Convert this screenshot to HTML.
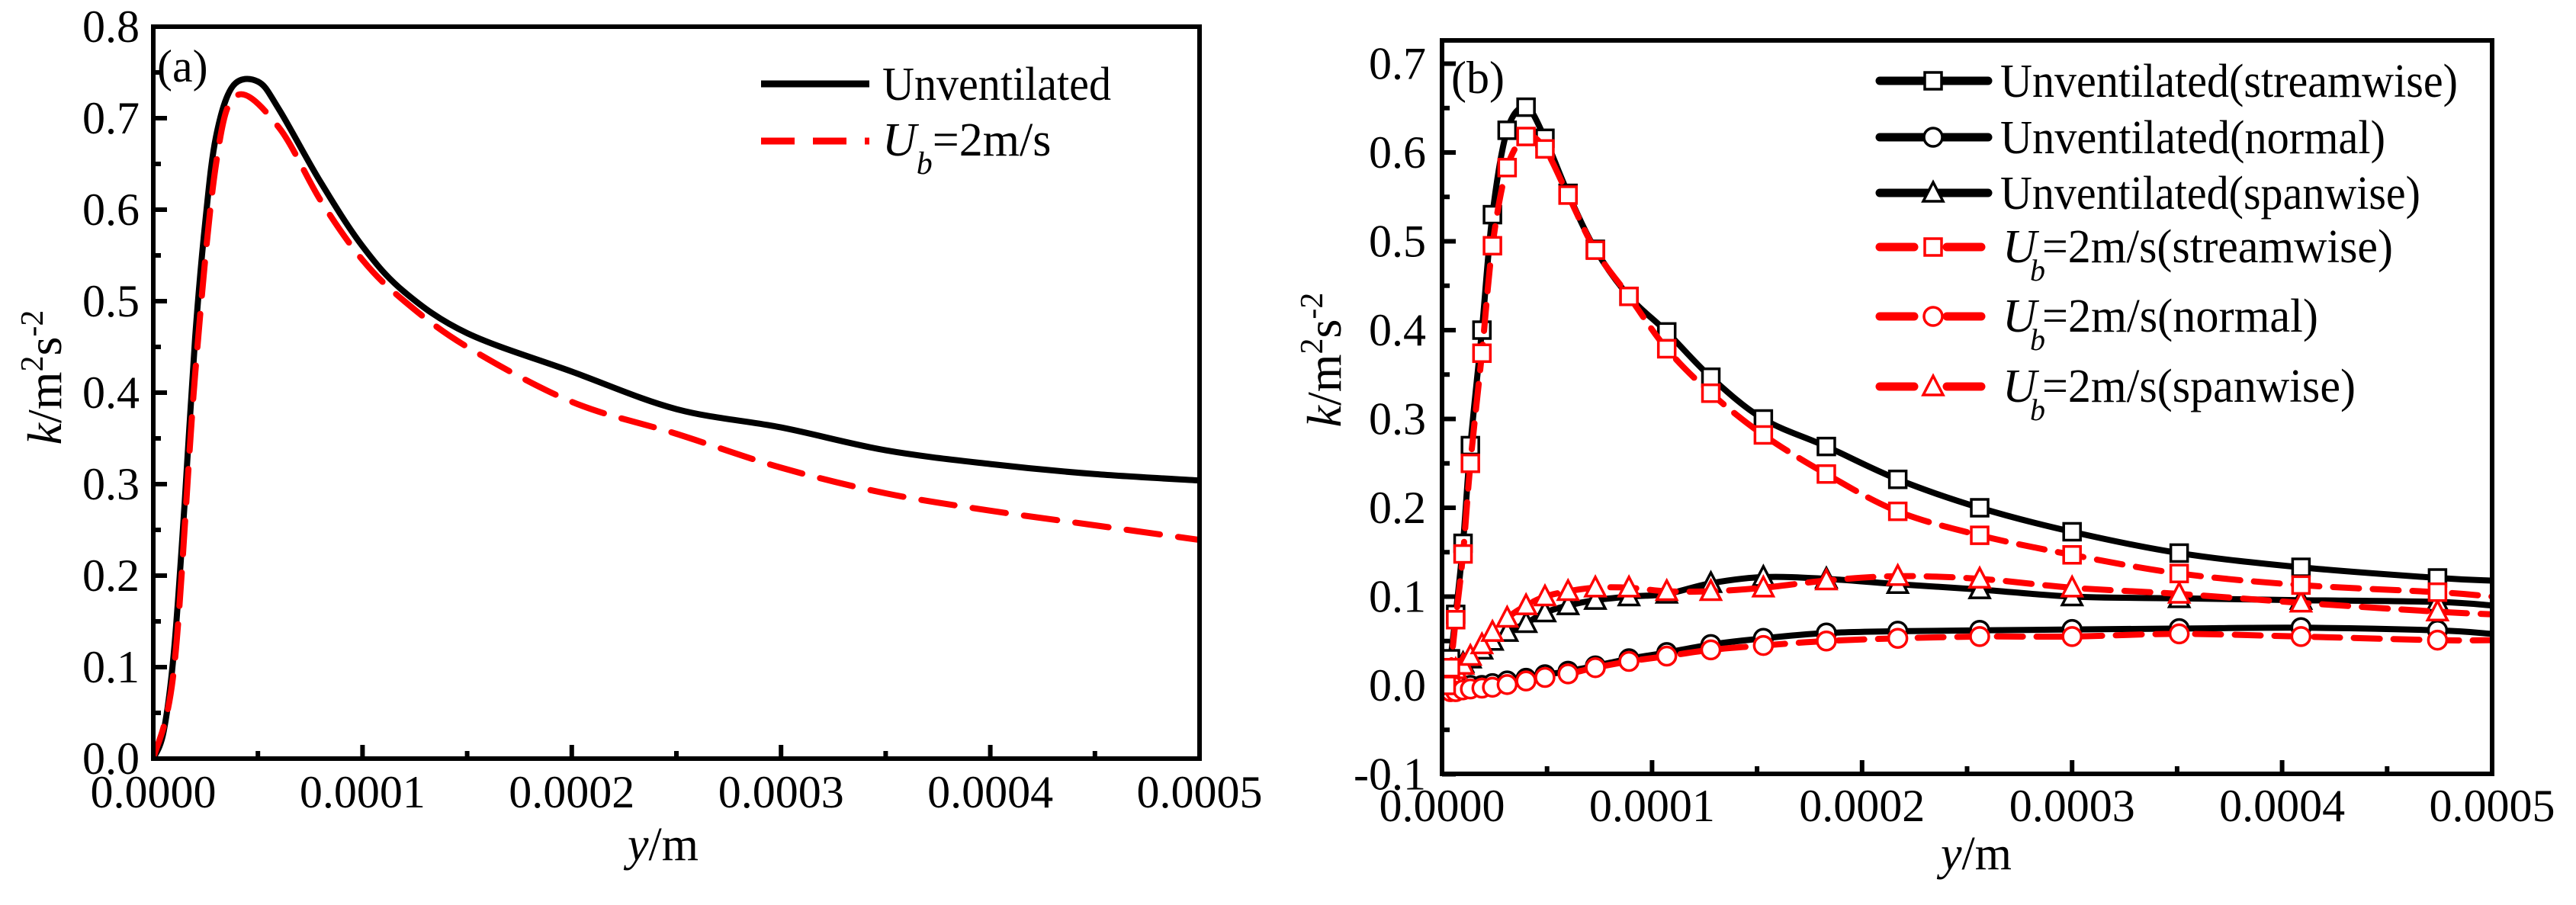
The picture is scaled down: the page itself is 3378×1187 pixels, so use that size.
<!DOCTYPE html>
<html><head><meta charset="utf-8"><style>
html,body{margin:0;padding:0;background:#fff;}
svg{display:block;font-family:"Liberation Serif",serif;}
</style></head><body>
<svg id="fig" width="3378" height="1187" viewBox="0 0 3378 1187" xmlns="http://www.w3.org/2000/svg">
<rect width="3378" height="1187" fill="#fff"/>
<g id="pa"></g>
<g id="pb"></g>
</svg>
<script>
// ---- Panel (a) data ----
const aUnventX = [0,0.000005,0.00001,0.000015,0.00002,0.000025,0.00003,0.000038,0.00005,0.00006,0.00008,0.0001,0.00012,0.00015,0.0002,0.00025,0.0003,0.00035,0.0004,0.00045,0.0005];
const aUnventY = [0,0.03,0.12,0.28,0.46,0.59,0.68,0.735,0.74,0.71,0.63,0.56,0.51,0.465,0.423,0.382,0.362,0.337,0.322,0.311,0.304];
const aUbX = [0,0.00001,0.00002,0.00003,0.00004,0.00006,0.00008,0.0001,0.00012,0.00015,0.0002,0.00025,0.0003,0.00035,0.0004,0.00045,0.0005];
const aUbY = [0,0.1,0.42,0.65,0.725,0.69,0.61,0.545,0.5,0.45,0.39,0.355,0.318,0.29,0.271,0.255,0.239];
const aXTicks = ["0.0000","0.0001","0.0002","0.0003","0.0004","0.0005"];
const aYTicks = ["0.0","0.1","0.2","0.3","0.4","0.5","0.6","0.7","0.8"];

// ---- Panel (b) data ----
const bX = [0.000002,0.000004,0.0000065,0.00001,0.0000135,0.000019,0.000024,0.000031,0.00004,0.000049,0.00006,0.000073,0.000089,0.000107,0.000128,0.000153,0.000183,0.000217,0.000256,0.0003,0.000351,0.000409,0.000474,0.0005];
const bUnvStream = [0.01,0.03,0.08,0.16,0.27,0.40,0.53,0.625,0.651,0.616,0.554,0.491,0.438,0.398,0.347,0.300,0.269,0.232,0.200,0.173,0.149,0.133,0.121,0.118];
const bUnvNormal = [0,0,0,0,0,0,0.002,0.005,0.008,0.012,0.016,0.022,0.030,0.037,0.046,0.053,0.059,0.061,0.062,0.063,0.064,0.065,0.062,0.058];
const bUnvSpan = [0.005,0.01,0.017,0.025,0.03,0.04,0.05,0.06,0.07,0.082,0.09,0.096,0.1,0.103,0.115,0.122,0.12,0.114,0.108,0.1,0.098,0.096,0.094,0.09];
const bUbStream = [0.0,0.02,0.074,0.148,0.25,0.374,0.495,0.583,0.618,0.604,0.552,0.49,0.438,0.379,0.329,0.282,0.238,0.196,0.169,0.147,0.126,0.113,0.105,0.1];
const bUbNormal = [-0.005,-0.007,-0.007,-0.005,-0.004,-0.003,-0.002,0.001,0.005,0.009,0.013,0.02,0.027,0.033,0.04,0.045,0.05,0.053,0.055,0.055,0.058,0.055,0.051,0.051];
const bUbSpan = [0.005,0.013,0.018,0.023,0.033,0.046,0.06,0.076,0.09,0.1,0.106,0.11,0.11,0.106,0.106,0.11,0.118,0.123,0.12,0.11,0.103,0.093,0.083,0.08];
const bXTicks = ["0.0000","0.0001","0.0002","0.0003","0.0004","0.0005"];
const bYTicks = ["-0.1","0.0","0.1","0.2","0.3","0.4","0.5","0.6","0.7"];

const NS="http://www.w3.org/2000/svg";
function mk(parent,tag,attrs){const e=document.createElementNS(NS,tag);for(const k in attrs)e.setAttribute(k,attrs[k]);parent.appendChild(e);return e;}

const aL=201,aR=1573,aT=35,aB=995;
const ax=v=>aL+v/0.0005*(aR-aL);
const ay=v=>aB-v/0.8*(aB-aT);
const bL=1891,bR=3268,bT=53,bB=1015;
const bx=v=>bL+v/0.0005*(bR-bL);
const by=v=>899-v/0.1*116.5;

// smooth path (Catmull-Rom -> Bezier)
function pathD(xs,ys,fx,fy){
 const P=xs.map((x,i)=>[fx(x),fy(ys[i])]);
 let d='M'+P[0][0].toFixed(1)+','+P[0][1].toFixed(1);
 const t=0.5/3*2*0.5*2/2; // tension factor ~0.167
 for(let i=0;i<P.length-1;i++){
  const p0=P[i-1]||P[i],p1=P[i],p2=P[i+1],p3=P[i+2]||P[i+1];
  const c1=[p1[0]+(p2[0]-p0[0])/6,p1[1]+(p2[1]-p0[1])/6];
  const c2=[p2[0]-(p3[0]-p1[0])/6,p2[1]-(p3[1]-p1[1])/6];
  d+=' C'+c1[0].toFixed(1)+','+c1[1].toFixed(1)+' '+c2[0].toFixed(1)+','+c2[1].toFixed(1)+' '+p2[0].toFixed(1)+','+p2[1].toFixed(1);
 }
 return d;
}

// ===== Panel A =====
const pa=document.getElementById('pa');
for(let i=0;i<=10;i++){const v=i*0.00005;const len=i%2?10:18;
 const t=mk(pa,'line',{x1:ax(v),x2:ax(v),y1:aB,y2:aB-len,stroke:'#000','stroke-width':6});
 
 }
for(let i=0;i<=16;i++){const v=i*0.05;const len=i%2?10:18;
 const t=mk(pa,'line',{x1:aL,x2:aL+len,y1:ay(v),y2:ay(v),stroke:'#000','stroke-width':6});
 
 }
aXTicks.forEach((s,i)=>{const t=mk(pa,'text',{x:ax(i*0.0001),y:1059,'font-size':60,'text-anchor':'middle'});t.textContent=s;
 
 });
aYTicks.forEach((s,i)=>{const t=mk(pa,'text',{x:183,y:ay(i*0.1)+20,'font-size':60,'text-anchor':'end'});t.textContent=s;
 
 });
const aClip=mk(pa,'clipPath',{id:'clipA'});mk(aClip,'rect',{x:aL,y:aT,width:aR-aL,height:aB-aT});
const a1=mk(pa,'path',{d:pathD(aUnventX,aUnventY,ax,ay),fill:'none',stroke:'#000','stroke-width':8,'stroke-linejoin':'round','clip-path':'url(#clipA)'});


const a2=mk(pa,'path',{d:pathD(aUbX,aUbY,ax,ay),fill:'none',stroke:'#f00','stroke-width':8,'stroke-dasharray':'44,24','stroke-linecap':'round','clip-path':'url(#clipA)'});


const fa=mk(pa,'rect',{x:aL,y:aT,width:aR-aL,height:aB-aT,fill:'none',stroke:'#000','stroke-width':6});


pa.insertAdjacentHTML('beforeend',
`<text x="206" y="107" font-size="60">(a)</text>
<g>
<line x1="998" y1="110" x2="1140" y2="110" stroke="#000" stroke-width="9"/>
<text x="1157" y="131" font-size="62" textLength="300" lengthAdjust="spacingAndGlyphs">Unventilated</text>
<line x1="998" y1="185" x2="1140" y2="185" stroke="#f00" stroke-width="9" stroke-dasharray="44,24"/>
<text x="1157" y="204" font-size="62"><tspan font-style="italic">U</tspan><tspan font-style="italic" font-size="42" dy="24">b</tspan><tspan dy="-24">=2m/s</tspan></text>
</g>
<text x="823" y="1128" font-size="62"><tspan font-style="italic">y</tspan>/m</text>
<text transform="translate(80,495) rotate(-90)" text-anchor="middle" font-size="64"><tspan font-style="italic">k</tspan>/m<tspan font-size="42" dy="-24">2</tspan><tspan dy="24">s</tspan><tspan font-size="42" dy="-24">-2</tspan></text>`);

// ===== Panel B =====
const pb=document.getElementById('pb');
for(let i=0;i<=10;i++){const v=i*0.00005;const len=i%2?10:18;
 const t=mk(pb,'line',{x1:bx(v),x2:bx(v),y1:bB,y2:bB-len,stroke:'#000','stroke-width':6});
 
 }
for(let i=0;i<=16;i++){const v=-0.1+i*0.05;if(by(v)<bT)continue;const len=i%2?10:18;
 const t=mk(pb,'line',{x1:bL,x2:bL+len,y1:by(v),y2:by(v),stroke:'#000','stroke-width':6});
 
 }
bXTicks.forEach((s,i)=>{const t=mk(pb,'text',{x:bx(i*0.0001),y:1077,'font-size':60,'text-anchor':'middle'});t.textContent=s;
 
 });
bYTicks.forEach((s,i)=>{const t=mk(pb,'text',{x:1870,y:by(-0.1+i*0.1)+20,'font-size':60,'text-anchor':'end'});t.textContent=s;
 
 });
const bClip=mk(pb,'clipPath',{id:'clipB'});mk(bClip,'rect',{x:bL,y:bT,width:bR-bL,height:bB-bT});

function marker(g,type,cx,cy,color){
 const s=11;let m;
 if(type==='sq') m=mk(g,'rect',{x:cx-s,y:cy-s,width:2*s,height:2*s,fill:'#fff',stroke:color,'stroke-width':3.5});
 else if(type==='ci') m=mk(g,'circle',{cx:cx,cy:cy,r:s+1,fill:'#fff',stroke:color,'stroke-width':3.5});
 else m=mk(g,'polygon',{points:`${cx},${cy-s-3} ${cx-s-2},${cy+s} ${cx+s+2},${cy+s}`,fill:'#fff',stroke:color,'stroke-width':3.5});
 return m;
}
function series(ys,color,dashed,type,name){
 const g=mk(pb,'g',{'clip-path':'url(#clipB)'});
 
 
 const attrs={d:pathD(bX,ys,bx,by),fill:'none',stroke:color,'stroke-width':8,'stroke-linejoin':'round'};
 if(dashed){attrs['stroke-dasharray']='34,18';attrs['stroke-linecap']='round';}
 mk(g,'path',attrs);
 for(let i=0;i<bX.length-1;i++){
  const m=marker(g,type,bx(bX[i]),by(ys[i]),color);
  
  
 }
}
series(bUnvSpan,'#000',false,'tr','series-unventilated-spanwise');
series(bUnvNormal,'#000',false,'ci','series-unventilated-normal');
series(bUnvStream,'#000',false,'sq','series-unventilated-streamwise');
series(bUbSpan,'#f00',true,'tr','series-ub-spanwise');
series(bUbNormal,'#f00',true,'ci','series-ub-normal');
series(bUbStream,'#f00',true,'sq','series-ub-streamwise');

const fb=mk(pb,'rect',{x:bL,y:bT,width:bR-bL,height:bB-bT,fill:'none',stroke:'#000','stroke-width':6});



const lg=mk(pb,'g',{});


const legRows=[
 {y:106,c:'#000',d:false,t:'sq',txt:'Unventilated(streamwise)',w:600,ub:false},
 {y:180,c:'#000',d:false,t:'ci',txt:'Unventilated(normal)',w:505,ub:false},
 {y:253,c:'#000',d:false,t:'tr',txt:'Unventilated(spanwise)',w:551,ub:false},
 {y:324,c:'#f00',d:true,t:'sq',txt:'=2m/s(streamwise)',w:460,ub:true},
 {y:415,c:'#f00',d:true,t:'ci',txt:'=2m/s(normal)',w:362,ub:true},
 {y:507,c:'#f00',d:true,t:'tr',txt:'=2m/s(spanwise)',w:411,ub:true}];
legRows.forEach(r=>{
 const row=mk(lg,'g',{});
 
 
 if(r.d){mk(row,'line',{x1:2465,x2:2510,y1:r.y,y2:r.y,stroke:r.c,'stroke-width':11,'stroke-linecap':'round'});
  mk(row,'line',{x1:2553,x2:2598,y1:r.y,y2:r.y,stroke:r.c,'stroke-width':11,'stroke-linecap':'round'});}
 else mk(row,'line',{x1:2465,x2:2607,y1:r.y,y2:r.y,stroke:r.c,'stroke-width':11,'stroke-linecap':'round'});
 marker(row,r.t,2535,r.y,r.c);
 if(r.ub){
  const u=mk(row,'text',{x:2626,y:r.y+20,'font-size':62,'font-style':'italic'});u.textContent='U';
  const b=mk(row,'text',{x:2662,y:r.y+44,'font-size':40,'font-style':'italic'});b.textContent='b';
  const t=mk(row,'text',{x:2678,y:r.y+20,'font-size':62,textLength:r.w,lengthAdjust:'spacingAndGlyphs'});t.textContent=r.txt;
 } else {
  const t=mk(row,'text',{x:2623,y:r.y+21,'font-size':62,textLength:r.w,lengthAdjust:'spacingAndGlyphs'});t.textContent=r.txt;
 }
});
pb.insertAdjacentHTML('beforeend',
`<text x="1903" y="122" font-size="60">(b)</text>
<text x="2545" y="1140" font-size="62"><tspan font-style="italic">y</tspan>/m</text>
<text transform="translate(1758,472) rotate(-90)" text-anchor="middle" font-size="64"><tspan font-style="italic">k</tspan>/m<tspan font-size="42" dy="-24">2</tspan><tspan dy="24">s</tspan><tspan font-size="42" dy="-24">-2</tspan></text>`);
</script>
</body></html>
